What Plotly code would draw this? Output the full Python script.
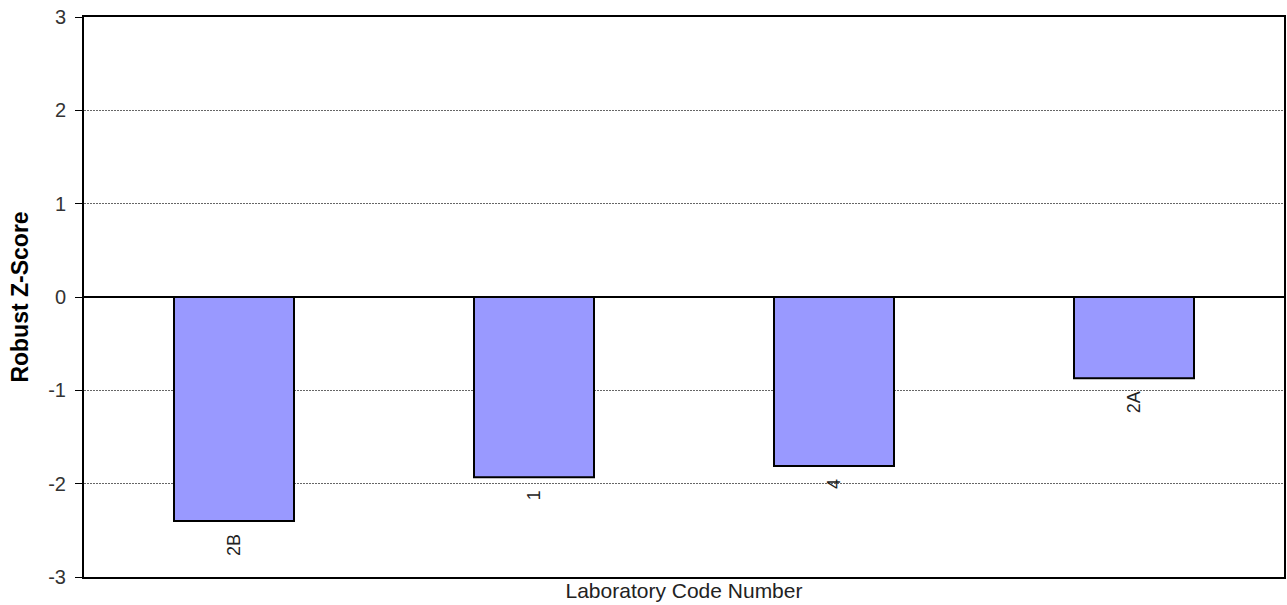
import plotly.graph_objects as go

labs = ["2B", "1", "4", "2A"]
zscores = [-2.40, -1.93, -1.81, -0.87]
yticks = [-3, -2, -1, 0, 1, 2, 3]
yticktext = ["-3", "-2", "-1", "0", "1", "2", "3"]

fig = go.Figure()
fig.add_trace(go.Bar(
    x=labs, y=zscores, width=0.4,
    marker=dict(color="#9999FF", line=dict(color="black", width=2)),
    hoverinfo="skip",
))

for i, (lab, v) in enumerate(zip(labs, zscores)):
    fig.add_annotation(x=i, y=v, xref="x", yref="y", text=lab, showarrow=False,
                       textangle=-90, yanchor="top", xanchor="center", yshift=-11,
                       font=dict(family="Liberation Sans, Arial", size=18, color="#222"))

fig.update_layout(
    width=1287, height=605,
    margin=dict(l=84, r=3, t=17, b=28),
    plot_bgcolor="white", paper_bgcolor="white",
    showlegend=False,
    font=dict(family="Liberation Sans, Arial", color="#222"),
)
fig.update_xaxes(type="category", range=[-0.5, 3.5], showticklabels=False, ticks="",
                 showline=True, mirror=True, linecolor="black", linewidth=2,
                 showgrid=False, automargin=False,
                 title=dict(text="Laboratory Code Number", standoff=5,
                            font=dict(size=21, color="#222")))
fig.update_yaxes(range=[-3, 3], tickvals=yticks, ticktext=yticktext,
                 ticks="outside", ticklen=7, ticklabelstandoff=5,
                 ticklabeloverflow="allow",
                 tickcolor="black", tickwidth=1, automargin=False,
                 tickfont=dict(size=20, color="#333"),
                 showline=True, mirror=True, linecolor="black", linewidth=2,
                 showgrid=True, gridcolor="#666", gridwidth=1, griddash="2px,1px",
                 zeroline=True, zerolinecolor="black", zerolinewidth=2,
                 title=dict(text="<b>Robust Z-Score</b>", standoff=13,
                            font=dict(size=23, color="black")))

fig.write_html("out.html", config={"displayModeBar": False},
               post_script="document.body.style.margin='0';document.body.style.overflow='hidden';")
